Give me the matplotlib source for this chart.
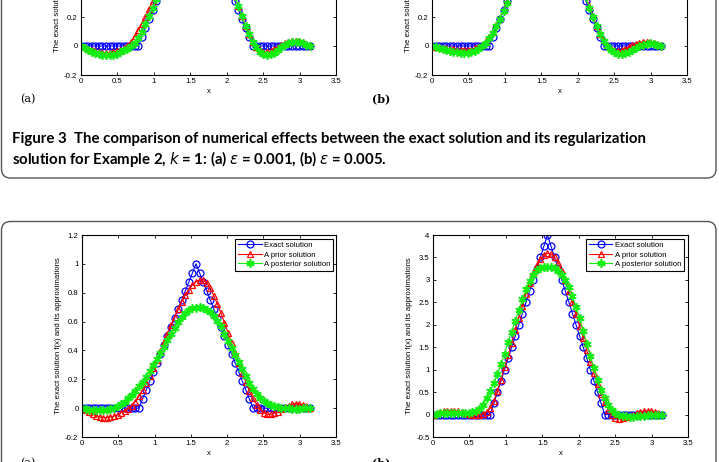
import numpy as np
import matplotlib
matplotlib.use("Agg")
import matplotlib.pyplot as plt
from matplotlib.patches import FancyBboxPatch
from matplotlib.ticker import FormatStrFormatter

plt.rcParams['axes.unicode_minus'] = False
plt.rcParams['mathtext.fontset'] = 'dejavusans'

# ---------------- data ----------------
x = np.linspace(0, np.pi, 65)

exact_1 = [0, 0, 0, 0, 0, 0, 0, 0, 0, 0, 0, 0, 0, 0, 0, 0, 0,
           0.0625, 0.125, 0.1875, 0.25, 0.3125, 0.375, 0.4375, 0.5,
           0.5625, 0.625, 0.6875, 0.75, 0.8125, 0.875, 0.9375, 1.0,
           0.9375, 0.875, 0.8125, 0.75, 0.6875, 0.625, 0.5625, 0.5,
           0.4375, 0.375, 0.3125, 0.25, 0.1875, 0.125, 0.0625, 0,
           0, 0, 0, 0, 0, 0, 0, 0, 0, 0, 0, 0, 0, 0, 0, 0]

exact_4 = [0, 0, 0, 0, 0, 0, 0, 0, 0, 0, 0, 0, 0, 0, 0, 0, 0,
           0.25, 0.5, 0.75, 1.0, 1.25, 1.5, 1.75, 2.0,
           2.25, 2.5, 2.75, 3.0, 3.25, 3.5, 3.75, 4.0,
           3.75, 3.5, 3.25, 3.0, 2.75, 2.5, 2.25, 2.0,
           1.75, 1.5, 1.25, 1.0, 0.75, 0.5, 0.25, 0,
           0, 0, 0, 0, 0, 0, 0, 0, 0, 0, 0, 0, 0, 0, 0, 0]

# Figure 3 (a)
prior_3a = [0.000, -0.010, -0.020, -0.029, -0.037, -0.043, -0.047, -0.049, -0.048, -0.044,
            -0.037, -0.027, -0.014, 0.002, 0.030, 0.068, 0.110, 0.155, 0.200, 0.252,
            0.307, 0.365, 0.425, 0.487, 0.550, 0.610, 0.670, 0.730, 0.780, 0.830,
            0.870, 0.895, 0.905, 0.900, 0.880, 0.850, 0.800, 0.750, 0.690, 0.630,
            0.560, 0.490, 0.415, 0.345, 0.275, 0.205, 0.140, 0.080, 0.030, -0.005,
            -0.028, -0.040, -0.042, -0.036, -0.022, -0.005, 0.010, 0.022, 0.031, 0.035,
            0.036, 0.033, 0.025, 0.015, 0.005]
post_3a = [0.000, -0.015, -0.029, -0.041, -0.051, -0.058, -0.063, -0.065, -0.064, -0.060,
           -0.053, -0.043, -0.031, -0.018, -0.002, 0.020, 0.055, 0.100, 0.150, 0.205,
           0.262, 0.322, 0.385, 0.448, 0.510, 0.575, 0.635, 0.695, 0.750, 0.800,
           0.840, 0.870, 0.880, 0.875, 0.860, 0.830, 0.785, 0.735, 0.680, 0.620,
           0.555, 0.487, 0.415, 0.345, 0.275, 0.205, 0.140, 0.080, 0.030, -0.010,
           -0.040, -0.058, -0.063, -0.058, -0.045, -0.027, -0.008, 0.008, 0.020, 0.028,
           0.030, 0.028, 0.020, 0.010, 0.000]

# Figure 3 (b)
prior_3b = [0.000, -0.004, -0.008, -0.012, -0.016, -0.020, -0.024, -0.027, -0.029, -0.030,
            -0.029, -0.025, -0.017, -0.006, 0.010, 0.032, 0.062, 0.100, 0.145, 0.195,
            0.250, 0.310, 0.370, 0.435, 0.500, 0.565, 0.630, 0.695, 0.755, 0.810,
            0.855, 0.885, 0.895, 0.890, 0.870, 0.835, 0.790, 0.740, 0.680, 0.620,
            0.555, 0.487, 0.415, 0.345, 0.275, 0.205, 0.140, 0.085, 0.040, 0.005,
            -0.018, -0.030, -0.034, -0.030, -0.020, -0.008, 0.005, 0.016, 0.024, 0.029,
            0.030, 0.028, 0.022, 0.013, 0.004]
post_3b = [0.000, -0.007, -0.014, -0.021, -0.027, -0.033, -0.038, -0.043, -0.047, -0.049,
           -0.048, -0.043, -0.034, -0.020, -0.002, 0.022, 0.052, 0.090, 0.135, 0.185,
           0.240, 0.300, 0.360, 0.425, 0.490, 0.555, 0.620, 0.680, 0.735, 0.785,
           0.825, 0.850, 0.860, 0.855, 0.840, 0.810, 0.770, 0.720, 0.665, 0.605,
           0.540, 0.475, 0.405, 0.335, 0.265, 0.198, 0.135, 0.080, 0.035, 0.000,
           -0.025, -0.042, -0.052, -0.055, -0.050, -0.040, -0.027, -0.013, -0.001, 0.009,
           0.015, 0.018, 0.016, 0.010, 0.003]

# Figure 4 (a)
prior_4a = [0.000, -0.016, -0.030, -0.043, -0.054, -0.061, -0.065, -0.065, -0.062, -0.056,
            -0.045, -0.032, -0.018, -0.003, 0.017, 0.046, 0.082, 0.124, 0.172, 0.225,
            0.279, 0.336, 0.395, 0.455, 0.515, 0.573, 0.630, 0.686, 0.737, 0.783,
            0.822, 0.853, 0.875, 0.887, 0.888, 0.870, 0.830, 0.780, 0.722, 0.660,
            0.592, 0.522, 0.453, 0.385, 0.316, 0.247, 0.181, 0.120, 0.068, 0.025,
            -0.010, -0.032, -0.043, -0.043, -0.036, -0.024, -0.009, 0.006, 0.018, 0.027,
            0.031, 0.029, 0.023, 0.013, 0.002]
post_4a = [0.000, -0.005, -0.010, -0.013, -0.015, -0.015, -0.015, -0.011, -0.006, 0.003,
           0.013, 0.029, 0.046, 0.069, 0.094, 0.122, 0.151, 0.184, 0.219, 0.256,
           0.296, 0.338, 0.382, 0.426, 0.470, 0.514, 0.558, 0.598, 0.632, 0.660,
           0.679, 0.692, 0.697, 0.698, 0.693, 0.683, 0.664, 0.640, 0.605, 0.566,
           0.517, 0.467, 0.418, 0.369, 0.320, 0.271, 0.222, 0.173, 0.135, 0.098,
           0.073, 0.049, 0.034, 0.020, 0.012, 0.005, 0.002, 0.000, -0.002, -0.003,
           -0.003, -0.003, -0.002, -0.001, 0.000]

# Figure 4 (b)
prior_4b = [0.000, 0.025, 0.050, 0.070, 0.084, 0.090, 0.086, 0.073, 0.053, 0.032,
            0.012, -0.003, -0.010, -0.006, 0.015, 0.060, 0.140, 0.300, 0.520, 0.780,
            1.050, 1.320, 1.600, 1.880, 2.150, 2.420, 2.680, 2.930, 3.150, 3.330,
            3.460, 3.550, 3.590, 3.570, 3.500, 3.380, 3.200, 2.990, 2.750, 2.500,
            2.240, 1.970, 1.700, 1.430, 1.170, 0.920, 0.680, 0.460, 0.270, 0.110,
            -0.010, -0.070, -0.090, -0.080, -0.060, -0.030, 0.000, 0.030, 0.060, 0.080,
            0.085, 0.080, 0.065, 0.040, 0.010]
post_4b = [0.000, 0.015, 0.025, 0.030, 0.035, 0.035, 0.035, 0.030, 0.030, 0.030,
           0.035, 0.050, 0.075, 0.120, 0.220, 0.360, 0.520, 0.700, 0.900, 1.120,
           1.360, 1.610, 1.850, 2.090, 2.330, 2.570, 2.790, 2.970, 3.110, 3.210,
           3.260, 3.285, 3.290, 3.285, 3.260, 3.200, 3.110, 3.000, 2.840, 2.640,
           2.400, 2.140, 1.860, 1.580, 1.300, 1.030, 0.780, 0.550, 0.360, 0.210,
           0.100, 0.030, -0.010, -0.030, -0.040, -0.045, -0.045, -0.040, -0.035, -0.030,
           -0.020, -0.010, -0.005, 0.000, 0.000]

legend_labels = ['Exact solution', 'A prior solution', 'A posterior solution']
ylabel_text = 'The exact solution f(x) and its approximations'
caption_1 = 'Figure 3  The comparison of numerical effects between the exact solution and its regularization'
caption_2 = r'solution for Example 2, $k$ = 1: (a) $\varepsilon$ = 0.001, (b) $\varepsilon$ = 0.005.'

# ---------------- figure ----------------
W, H = 719, 462
fig = plt.figure(figsize=(W / 100, H / 100), dpi=100)

bg = fig.add_axes([0, 0, 1, 1], zorder=0)
bg.set_xlim(0, W)
bg.set_ylim(H, 0)
bg.axis('off')
bg.add_patch(FancyBboxPatch((1.5, -60), 714.5, 238, boxstyle="round,pad=0,rounding_size=9",
                            fc='none', ec='#555555', lw=1.0, clip_on=False))
bg.add_patch(FancyBboxPatch((1.5, 221.5), 714.5, 300, boxstyle="round,pad=0,rounding_size=9",
                            fc='none', ec='#555555', lw=1.0, clip_on=False))

FONT = 'Liberation Sans'


def make_ax(l, t, r, b):
    ax = fig.add_axes([l / W, 1 - b / H, (r - l) / W, (b - t) / H], zorder=2)
    for s in ax.spines.values():
        s.set_linewidth(0.8)
    ax.tick_params(direction='in', length=2.5, width=0.6, top=True, right=True,
                   labelsize=5.6, pad=2.5)
    ax.xaxis.set_major_formatter(FormatStrFormatter('%g'))
    ax.yaxis.set_major_formatter(FormatStrFormatter('%g'))
    return ax


def draw(ax, exact, prior, post, ylim, yticks, legend=None):
    l1, = ax.plot(x, exact, '-', color='#0000ff', lw=0.8, marker='o', ms=5.0,
                  mfc='none', mec='#0000ff', mew=0.9)
    l2, = ax.plot(x, prior, '-', color='#ff0000', lw=0.8, marker='^', ms=5.0,
                  mfc='none', mec='#ff0000', mew=0.9)
    l3, = ax.plot(x, post, '-', color='#11ee11', lw=0.8, marker=(6, 2, 0), ms=6,
                  mec='#11ee11', mew=1.2)
    ax.set_xlim(0, 3.5)
    ax.set_xticks(np.arange(0, 3.51, 0.5))
    ax.set_ylim(*ylim)
    ax.set_yticks(yticks)
    for lab in ax.get_xticklabels() + ax.get_yticklabels():
        lab.set_family(FONT)
    ax.set_xlabel('x', fontsize=5.6, family=FONT, labelpad=2)
    ax.set_ylabel(ylabel_text, fontsize=5.6, family=FONT, labelpad=2.5)
    if legend is not None:
        lg = ax.legend([l1, l2, l3], legend_labels, loc='upper right',
                       bbox_to_anchor=legend, borderaxespad=0,
                       prop={'family': FONT, 'size': 5.6}, handlelength=3.0,
                       handletextpad=0.3, borderpad=0.35, labelspacing=0.25,
                       fancybox=False, framealpha=1, edgecolor='black')
        lg.get_frame().set_linewidth(0.8)


ytk1 = np.round(np.arange(-0.2, 1.21, 0.2), 1)
ytk4 = np.arange(-0.5, 4.01, 0.5)

ax1 = make_ax(81, -128, 336, 75)
draw(ax1, exact_1, prior_3a, post_3a, (-0.2, 1.2), ytk1)
ax2 = make_ax(432, -128, 687, 75)
draw(ax2, exact_1, prior_3b, post_3b, (-0.2, 1.2), ytk1)
ax3 = make_ax(82, 235, 336, 437)
draw(ax3, exact_1, prior_4a, post_4a, (-0.2, 1.2), ytk1, legend=(0.988, 0.980))
ax4 = make_ax(433, 235, 688, 437)
draw(ax4, exact_4, prior_4b, post_4b, (-0.5, 4.0), ytk4, legend=(0.984, 0.980))

# panel labels
for (px, py, s, w) in [(20, 99, '(a)', 'normal'), (372, 99, '(b)', 'bold'),
                       (20, 463, '(a)', 'normal'), (372, 463, '(b)', 'bold')]:
    bg.text(px, py, s, family='DejaVu Serif', fontsize=8, fontweight=w,
            ha='left', va='center')

# caption
t1 = bg.text(12, 139, caption_1, family='Lato', fontweight='bold', fontsize=10,
             ha='left', va='center')
t2 = bg.text(12, 159, caption_2, family='Lato', fontweight='bold', fontsize=10,
             ha='left', va='center')
fig.canvas.draw()
w1 = t1.get_window_extent().width
fs = 10 * 638 / w1
t1.set_fontsize(fs)
t2.set_fontsize(fs)

fig.savefig('out.png', dpi=100)
